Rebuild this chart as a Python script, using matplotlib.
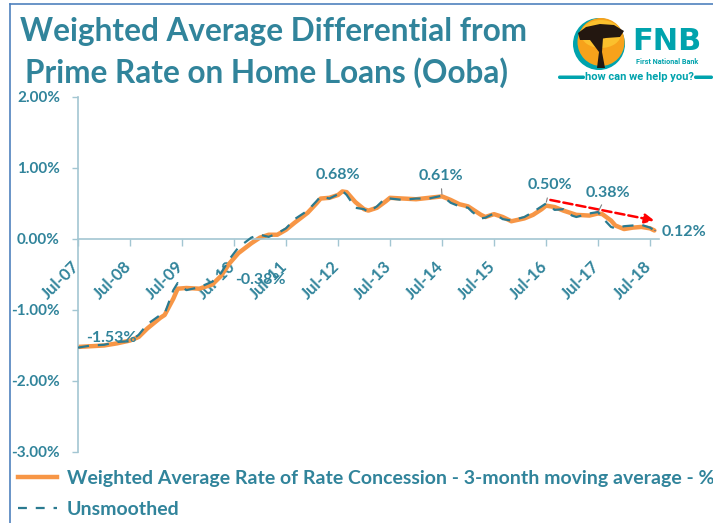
import matplotlib
matplotlib.use("Agg")
import matplotlib.pyplot as plt
import matplotlib.transforms as mtrans
from matplotlib.lines import Line2D
from matplotlib.patches import Ellipse, Polygon, FancyBboxPatch
import matplotlib.ticker as mtick

# months counted from Jul-07
months = [0, 3, 6, 9, 12, 14, 16, 19, 20, 22, 23, 25, 28, 31, 33, 34, 35, 37, 40,
          42, 44, 46, 48, 50, 53, 55, 56, 58, 60, 61, 62, 64, 66, 67, 69, 71, 72,
          75, 78, 81, 84, 86, 88, 90, 91, 93, 94, 96, 98, 100, 103, 105, 107, 108,
          110, 112, 114, 115, 118, 120, 121, 123, 124, 126, 128, 130, 132, 133]

smoothed = [-1.52, -1.51, -1.50, -1.47, -1.43, -1.38, -1.26, -1.11, -1.07, -0.84,
            -0.70, -0.69, -0.70, -0.64, -0.52, -0.43, -0.34, -0.20, -0.06, 0.02,
            0.06, 0.06, 0.13, 0.23, 0.37, 0.50, 0.57, 0.58, 0.62, 0.67, 0.66, 0.52,
            0.42, 0.40, 0.44, 0.53, 0.58, 0.57, 0.56, 0.58, 0.60, 0.55, 0.49, 0.46,
            0.42, 0.34, 0.31, 0.35, 0.31, 0.25, 0.29, 0.34, 0.42, 0.47, 0.45, 0.40,
            0.36, 0.34, 0.33, 0.36, 0.35, 0.26, 0.19, 0.14, 0.16, 0.17, 0.15, 0.12]

unsmoothed = [-1.53, -1.50, -1.49, -1.45, -1.44, -1.35, -1.20, -1.07, -1.05, -0.72,
              -0.62, -0.72, -0.68, -0.60, -0.48, -0.38, -0.28, -0.12, 0.02, 0.06,
              0.03, 0.08, 0.15, 0.28, 0.40, 0.53, 0.60, 0.57, 0.63, 0.68, 0.62, 0.44,
              0.42, 0.38, 0.46, 0.58, 0.57, 0.55, 0.57, 0.57, 0.61, 0.51, 0.46, 0.44,
              0.38, 0.29, 0.30, 0.36, 0.28, 0.26, 0.31, 0.38, 0.46, 0.50, 0.41, 0.42,
              0.33, 0.31, 0.36, 0.38, 0.30, 0.17, 0.15, 0.18, 0.19, 0.20, 0.16, 0.12]

tick_months = [0, 12, 24, 36, 48, 60, 72, 84, 96, 108, 120, 132]
tick_labels = ["Jul-07", "Jul-08", "Jul-09", "Jul-10", "Jul-11", "Jul-12",
               "Jul-13", "Jul-14", "Jul-15", "Jul-16", "Jul-17", "Jul-18"]

# labelled points: month, value, text offset (points), leader line
callouts = [(0, -1.53, (24, 7), False),
            (34, -0.38, (25, -10), False),
            (61, 0.68, (-3, 11), False),
            (84, 0.61, (-1, 14), True),
            (108, 0.50, (3, 13), True),
            (120, 0.38, (7, 14), True),
            (133, 0.12, (21, -1), True)]

TEAL = "#31849B"
ORANGE = "#F79646"
AXIS = "#A3C6D2"
FNB = "#00A3AD"

plt.rcParams["font.family"] = ["Lato", "DejaVu Sans"]

fig = plt.figure(figsize=(7.13, 5.23), dpi=100)
ax = fig.add_axes([78 / 713, 1 - 452 / 523, (658.7 - 78) / 713, (452 - 97) / 523])

ax.plot(months, smoothed, color=ORANGE, lw=3.2, solid_capstyle="round", zorder=2)
ax.plot(months, unsmoothed, color="#2A7A90", lw=1.6, ls=(0, (5, 4)), zorder=3)

ax.set_xlim(0, 134)
ax.set_ylim(-3, 2)
ax.yaxis.set_major_locator(mtick.MultipleLocator(1))
ax.yaxis.set_major_formatter(mtick.FuncFormatter(lambda v, p: f"{v:.2f}%"))
ax.set_xticks(tick_months)
ax.set_xticklabels(tick_labels)

for s in ["top", "right"]:
    ax.spines[s].set_visible(False)
ax.spines["bottom"].set_position(("data", 0))
ax.spines["left"].set_color(AXIS)
ax.spines["bottom"].set_color(AXIS)
ax.spines["left"].set_linewidth(1.2)
ax.spines["bottom"].set_linewidth(1.2)
ax.tick_params(axis="y", colors=AXIS, length=4, width=1, pad=9, labelcolor=TEAL,
               labelsize=11)
ax.tick_params(axis="x", colors=AXIS, length=5, width=1, pad=9, labelcolor=TEAL,
               labelsize=12, labelrotation=45)
shift = mtrans.ScaledTranslation(5 / 100, 0, fig.dpi_scale_trans)
for lab in ax.get_xticklabels():
    lab.set_fontweight("bold")
    lab.set_ha("right")
    lab.set_va("top")
    lab.set_transform(lab.get_transform() + shift)
for lab in ax.get_yticklabels():
    lab.set_fontweight("bold")

for m, v, off, leader in callouts:
    kw = {}
    if leader:
        kw["arrowprops"] = dict(arrowstyle="-", color="#7F7F7F", lw=0.8,
                                shrinkA=2, shrinkB=1)
    ax.annotate(f"{v:.2f}%", xy=(m, v), xytext=off, textcoords="offset points",
                ha="center", va="center", color=TEAL, fontsize=11.5,
                fontweight="bold", zorder=5, **kw)

# downward trend arrow since mid-2016
ax.annotate("", xy=(133, 0.26), xytext=(109, 0.55),
            arrowprops=dict(arrowstyle="-|>", color="red", lw=1.8, ls="--",
                            mutation_scale=14, shrinkA=0, shrinkB=0))

# title
fig.text(20 / 713, 1 - 32 / 523, "Weighted Average Differential from",
         color=TEAL, fontsize=22.7, fontweight="bold", va="center", ha="left")
fig.text(25 / 713, 1 - 73 / 523, "Prime Rate on Home Loans (Ooba)",
         color=TEAL, fontsize=22.7, fontweight="bold", va="center", ha="left")

# legend
handles = [Line2D([], [], color=ORANGE, lw=3.2),
           Line2D([], [], color="#2A7A90", lw=1.6, ls=(0, (4, 4)))]
fig.legend(handles,
           ["Weighted Average Rate of Rate Concession - 3-month moving average - %",
            "Unsmoothed"],
           loc="upper left", bbox_to_anchor=(18 / 713, 1 - 470 / 523),
           frameon=False, labelcolor=TEAL, handlelength=2.0,
           handletextpad=0.5, labelspacing=0.7, borderpad=0, borderaxespad=0,
           prop={"weight": "bold", "size": 14})

# FNB logo drawn in pixel coordinates
lg = fig.add_axes([558 / 713, 1 - 88 / 523, 155 / 713, 80 / 523])
lg.set_xlim(558, 713)
lg.set_ylim(88, 8)
lg.axis("off")
lg.add_patch(Ellipse((599, 44), 52, 52, facecolor=FNB, edgecolor="none"))
lg.add_patch(Ellipse((601, 42), 47, 48, facecolor="#F7A21B", edgecolor="none"))
lg.add_patch(Ellipse((601, 34), 40, 28, facecolor="#FBC02D", edgecolor="none"))
# acacia silhouette
lg.add_patch(Polygon([(578, 33), (586, 27), (600, 24), (614, 25), (624, 31),
                      (620, 37), (606, 38), (594, 40), (580, 40)],
                     closed=True, facecolor="#231710"))
lg.add_patch(Polygon([(598, 38), (603, 38), (602, 52), (605, 68), (597, 68),
                      (599, 52), (590, 40)], closed=True, facecolor="#231710"))
lg.text(632, 41.5, "FNB", color=FNB, fontsize=22, fontweight="bold",
        family="DejaVu Sans", va="center", ha="left")
lg.text(667, 62, "First National Bank", color=FNB, fontsize=5.2,
        fontweight="bold", family="Roboto", va="center", ha="center")
lg.text(639.5, 77, "how can we help you?", color=FNB, fontsize=8,
        fontweight="bold", family="Roboto", va="center", ha="center")
lg.add_patch(FancyBboxPatch((558, 75.5), 27, 3.5, boxstyle="round,pad=0,rounding_size=1.7",
                            facecolor=FNB, edgecolor="none"))
lg.add_patch(FancyBboxPatch((694, 75.5), 19, 3.5, boxstyle="round,pad=0,rounding_size=1.7",
                            facecolor=FNB, edgecolor="none"))

# slide frame
fig.add_artist(Line2D([10 / 713, 1], [1 - 4 / 523, 1 - 4 / 523], color="#4F81BD",
                      lw=1.2, transform=fig.transFigure))
fig.add_artist(Line2D([10 / 713, 10 / 713], [0, 1 - 4 / 523], color="#4F81BD",
                      lw=1.2, transform=fig.transFigure))

fig.savefig("out.png", dpi=100)
